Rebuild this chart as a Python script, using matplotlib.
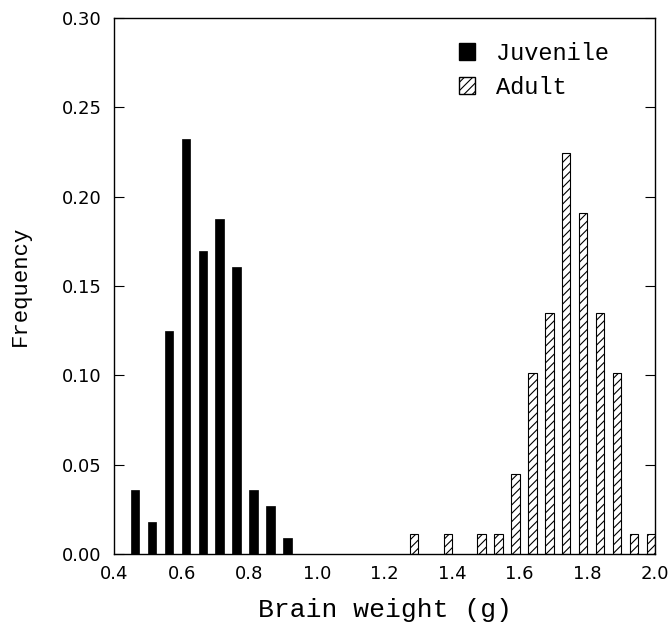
import matplotlib
matplotlib.use("Agg")
import matplotlib.pyplot as plt
from matplotlib.patches import Patch

plt.rcParams['hatch.linewidth'] = 0.8

juv_x = [0.4625, 0.5125, 0.5625, 0.6125, 0.6625, 0.7125, 0.7625, 0.8125, 0.8625, 0.9125]
juv_freq = [0.0357, 0.0179, 0.1250, 0.2321, 0.1696, 0.1875, 0.1607, 0.0357, 0.0268, 0.0089]

adult_x = [1.2875, 1.3875, 1.4875, 1.5375, 1.5875, 1.6375, 1.6875, 1.7375, 1.7875,
           1.8375, 1.8875, 1.9375, 1.9875]
adult_freq = [0.0112, 0.0112, 0.0112, 0.0112, 0.0449, 0.1011, 0.1348, 0.2247, 0.1910,
              0.1348, 0.1011, 0.0112, 0.0112]

xticks = [0.4, 0.6, 0.8, 1.0, 1.2, 1.4, 1.6, 1.8, 2.0]
yticks = [0.00, 0.05, 0.10, 0.15, 0.20, 0.25, 0.30]

fig = plt.figure(figsize=(6.68, 6.35), dpi=100)
ax = fig.add_axes([0.1707, 0.1276, 0.8098, 0.8441])

ax.bar(juv_x, juv_freq, width=0.025, color='black', edgecolor='black', linewidth=0.5)
ax.bar(adult_x, adult_freq, width=0.025, color='white', edgecolor='black',
       linewidth=0.8, hatch='////')

ax.set_xlim(0.4, 2.0)
ax.set_ylim(0, 0.30)
ax.set_xticks(xticks)
ax.set_xticklabels([f"{v:.1f}" for v in xticks])
ax.set_yticks(yticks)
ax.set_yticklabels([f"{v:.2f}" for v in yticks])

tickfont = 'DejaVu Sans'
for lab in ax.get_xticklabels() + ax.get_yticklabels():
    lab.set_family(tickfont)
    lab.set_fontsize(13)

ax.tick_params(axis='x', length=0, pad=8)
ax.tick_params(axis='y', direction='in', length=7, width=0.8, right=True, pad=9)

for s in ax.spines.values():
    s.set_linewidth(1.0)

ax.set_xlabel("Brain weight (g)", family='Liberation Mono', fontsize=19, labelpad=11)
ax.set_ylabel("Frequency", family='Liberation Mono', fontsize=16, labelpad=22)

handles = [Patch(facecolor='black', edgecolor='black', label='Juvenile'),
           Patch(facecolor='white', edgecolor='black', hatch='////', label='Adult')]
ax.legend(handles=handles, loc='upper right', frameon=False,
          prop={'family': 'Liberation Mono', 'size': 17},
          handlelength=0.7, handleheight=0.7, handletextpad=0.9,
          labelspacing=0.45, bbox_to_anchor=(0.955, 0.995))

fig.savefig("out.png", dpi=100)
